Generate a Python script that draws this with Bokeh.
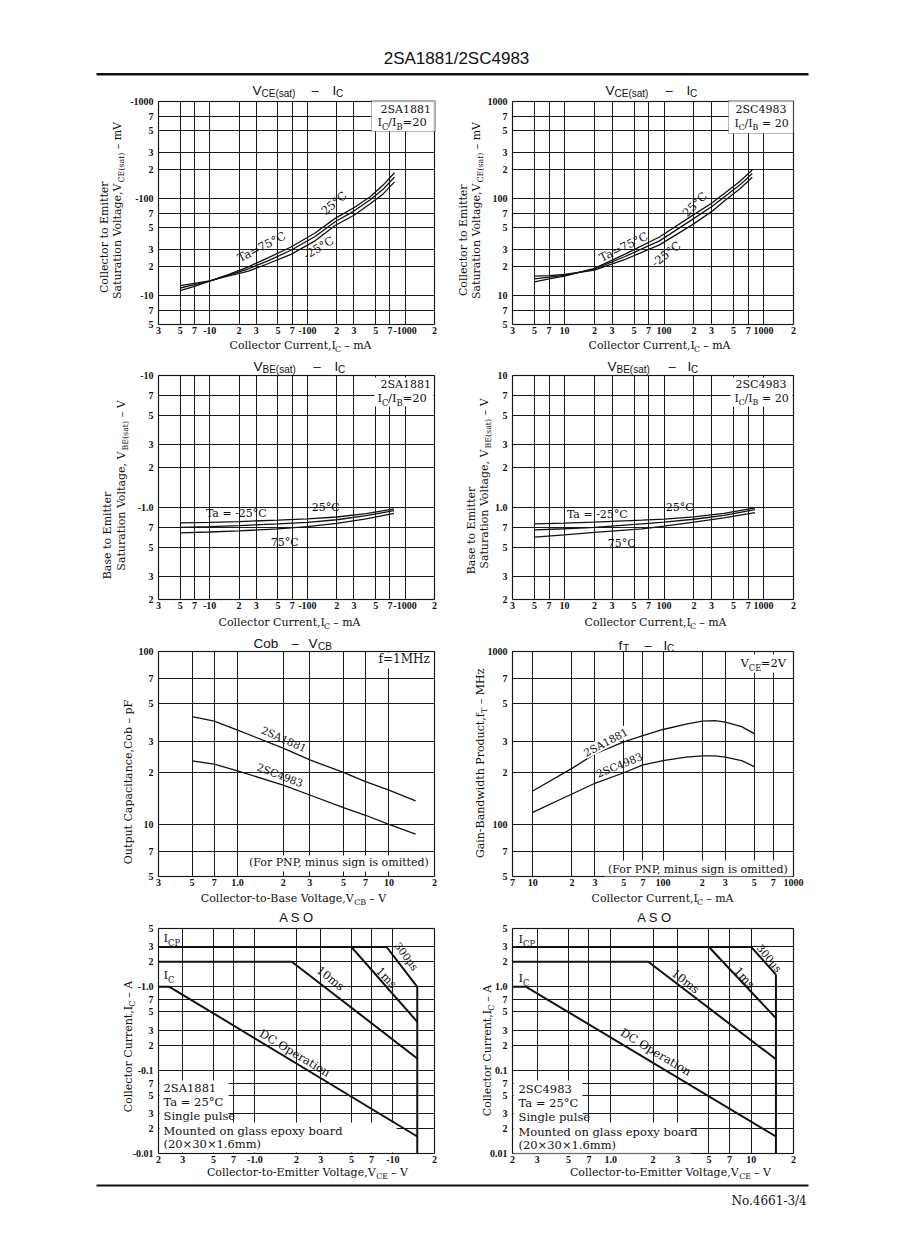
import math
from bokeh.plotting import figure
from bokeh.models import Label, BoxAnnotation, FixedTicker, Range1d, Grid
from bokeh.layouts import column, row
from bokeh.embed import file_html
from bokeh.resources import INLINE

# ---------------- data (magnitudes; PNP signs appear on the tick labels) ----------------
# VCE(sat) - IC, 2SA1881  (IC in mA, VCE(sat) in mV)
vcea_ic = [5, 7, 10, 15, 25, 40, 68, 120, 194, 300, 440, 600, 780]
vcea_75 = [11.2, 12.4, 14.0, 16.2, 19.7, 24.5, 31.5, 44.0, 62.6, 80.0, 104.0, 138.0, 184.0]
vcea_25 = [11.9, 12.9, 14.0, 16.0, 18.8, 22.8, 29.2, 40.5, 57.8, 74.0, 97.0, 125.0, 166.0]
vcea_m25 = [12.6, 13.3, 14.1, 15.7, 17.8, 21.3, 26.5, 36.5, 52.8, 67.0, 88.0, 112.0, 148.0]
# VCE(sat) - IC, 2SC4983
vcec_ic = [5, 7, 10, 20, 40, 90, 190, 300, 415, 580, 770]
vcec_75 = [13.8, 14.8, 15.8, 19.0, 26.5, 40.0, 66.0, 89.0, 115.0, 150.0, 196.0]
vcec_25 = [14.8, 15.4, 16.1, 18.6, 25.0, 36.5, 60.0, 82.0, 106.0, 138.0, 181.0]
vcec_m25 = [15.8, 16.0, 16.4, 18.2, 23.3, 33.2, 53.0, 73.0, 96.5, 126.0, 165.0]
# VBE(sat) - IC, 2SA1881 (V)
vbea_ic = [5, 10, 20, 50, 100, 200, 400, 770]
vbea_m25 = [0.762, 0.770, 0.780, 0.800, 0.818, 0.845, 0.895, 0.973]
vbea_25 = [0.706, 0.715, 0.727, 0.750, 0.770, 0.805, 0.865, 0.944]
vbea_75 = [0.641, 0.650, 0.663, 0.687, 0.715, 0.755, 0.818, 0.900]
# VBE(sat) - IC, 2SC4983
vbec_ic = [5, 10, 20, 60, 100, 200, 400, 820]
vbec_m25 = [0.750, 0.760, 0.772, 0.800, 0.815, 0.848, 0.900, 0.990]
vbec_25 = [0.675, 0.688, 0.705, 0.750, 0.772, 0.812, 0.870, 0.960]
vbec_75 = [0.594, 0.619, 0.645, 0.687, 0.720, 0.773, 0.832, 0.912]
# Cob - VCB (V, pF)
cob_v = [0.5, 0.7, 1.0, 2, 3, 5, 7, 10, 15]
cob_a = [42.0, 39.6, 35.1, 27.6, 23.6, 20.0, 17.7, 15.8, 13.7]
cob_c = [23.3, 22.3, 20.4, 16.9, 14.8, 12.5, 11.3, 10.0, 8.8]
# fT - IC (mA, MHz)
ft_ic = [10, 20, 30, 50, 70, 100, 150, 200, 250, 300, 400, 500]
ft_a = [156, 211, 256, 300, 326, 354, 380, 396, 398, 390, 368, 335]
ft_c = [117.5, 150, 173, 199, 221, 234, 245, 249, 249, 245, 234, 216]
# ASO 2SA1881 (V, A)
asoa_dc_v, asoa_dc_i = [0.2, 0.24, 15], [1.0, 1.0, 0.016]
asoa_10ms_v, asoa_10ms_i = [0.2, 1.85, 15], [2.0, 2.0, 0.138]
asoa_1ms_v, asoa_1ms_i = [5, 15], [3.0, 0.38]
asoa_300_v, asoa_300_i = [0.2, 9, 15], [3.0, 3.0, 1.0]
asoa_vceo_v, asoa_vceo_i = [15, 15], [1.0, 0.01]
# ASO 2SC4983
asoc_dc_v, asoc_dc_i = [0.2, 0.25, 15], [1.0, 1.0, 0.016]
asoc_10ms_v, asoc_10ms_i = [0.2, 1.85, 15], [2.0, 2.0, 0.135]
asoc_1ms_v, asoc_1ms_i = [5, 15], [3.0, 0.42]
asoc_300_v, asoc_300_i = [0.2, 10, 15], [3.0, 3.0, 1.4]
asoc_vceo_v, asoc_vceo_i = [15, 15], [1.4, 0.01]

# ---------------- ticks ----------------
ic_ticks = [3, 5, 7, 10, 20, 30, 50, 70, 100, 200, 300, 500, 700, 1000, 2000]
ic_lab_p = ["3", "5", "7", "-10", "2", "3", "5", "7", "-100", "2", "3", "5", "7", "-1000", "2"]
ic_lab_n = ["3", "5", "7", "10", "2", "3", "5", "7", "100", "2", "3", "5", "7", "1000", "2"]
vce_ticks = [5, 7, 10, 20, 30, 50, 70, 100, 200, 300, 500, 700, 1000]
vce_lab_p = ["5", "7", "-10", "2", "3", "5", "7", "-100", "2", "3", "5", "7", "-1000"]
vce_lab_n = ["5", "7", "10", "2", "3", "5", "7", "100", "2", "3", "5", "7", "1000"]
vbe_ticks = [0.2, 0.3, 0.5, 0.7, 1.0, 2, 3, 5, 7, 10]
vbe_lab_p = ["2", "3", "5", "7", "-1.0", "2", "3", "5", "7", "-10"]
vbe_lab_n = ["2", "3", "5", "7", "1.0", "2", "3", "5", "7", "10"]
cob_xticks = [0.3, 0.5, 0.7, 1.0, 2, 3, 5, 7, 10, 20]
cob_xlab = ["3", "5", "7", "1.0", "2", "3", "5", "7", "10", "2"]
cob_yticks = [5, 7, 10, 20, 30, 50, 70, 100]
cob_ylab = ["5", "7", "10", "2", "3", "5", "7", "100"]
ft_xticks = [7, 10, 20, 30, 50, 70, 100, 200, 300, 500, 700, 1000]
ft_xlab = ["7", "10", "2", "3", "5", "7", "100", "2", "3", "5", "7", "1000"]
ft_yticks = [50, 70, 100, 200, 300, 500, 700, 1000]
ft_ylab = ["5", "7", "100", "2", "3", "5", "7", "1000"]
aso_xticks = [0.2, 0.3, 0.5, 0.7, 1.0, 2, 3, 5, 7, 10, 20]
aso_xlab_p = ["2", "3", "5", "7", "-1.0", "2", "3", "5", "7", "-10", "2"]
aso_xlab_n = ["2", "3", "5", "7", "1.0", "2", "3", "5", "7", "10", "2"]
aso_yticks = [0.01, 0.02, 0.03, 0.05, 0.07, 0.1, 0.2, 0.3, 0.5, 0.7, 1.0, 2, 3, 5]
aso_ylab_p = ["-0.01", "2", "3", "5", "7", "-0.1", "2", "3", "5", "7", "-1.0", "2", "3", "5"]
aso_ylab_n = ["0.01", "2", "3", "5", "7", "0.1", "2", "3", "5", "7", "1.0", "2", "3", "5"]

# ---------------- text helpers ----------------
SERIF = "DejaVu Serif"
SANS = "Liberation Sans"
TICKF = "Liberation Serif"
_sw = {' ': .318, '(': .39, ')': .39, ',': .318, '-': .338, '.': .318, '/': .337, ':': .337,
       '=': .838, '°': .5, '×': .838, '–': .5, '−': .838, 'µ': .644,
       'A': .722, 'B': .735, 'C': .72, 'D': .802, 'E': .729, 'F': .693, 'G': .799, 'H': .872,
       'I': .395, 'M': .995, 'N': .837, 'O': .82, 'P': .685, 'S': .685, 'T': .668, 'V': .722,
       'W': 1.028, 'a': .596, 'b': .64, 'c': .56, 'd': .64, 'e': .592, 'f': .37, 'g': .64,
       'h': .644, 'i': .32, 'k': .606, 'l': .32, 'm': .948, 'n': .644, 'o': .602, 'p': .64,
       'r': .478, 's': .513, 't': .402, 'u': .644, 'v': .565, 'w': .856, 'x': .564,
       'y': .565, 'z': .527}
for d in "0123456789":
    _sw[d] = .636
_hw = {' ': .278, '(': .333, ')': .333, '-': .333, '–': .556, '/': .278, 'A': .667, 'B': .667,
       'C': .722, 'E': .667, 'I': .278, 'O': .778, 'S': .667, 'T': .611, 'V': .667,
       'a': .556, 'b': .556, 'f': .278, 'o': .556, 's': .5, 't': .278}
for d in "0123456789":
    _hw[d] = .556

GEOM = {}


def to_data(p, px, py):
    fl, fb, fw, fh, xr, yr, xlog, ylog = GEOM[id(p)]
    fx = (px - fl) / fw
    fy = (fb - py) / fh
    x = xr[0] * (xr[1] / xr[0]) ** fx if xlog else xr[0] + (xr[1] - xr[0]) * fx
    y = yr[0] * (yr[1] / yr[0]) ** fy if ylog else yr[0] + (yr[1] - yr[0]) * fy
    return x, y


def put(p, px, py, parts, size=11.0, font=SERIF, align="left", angle=0.0,
        style="normal", bg=None, color="#111111"):
    if isinstance(parts, str):
        parts = [(parts, "n")]
    tab = _sw if font == SERIF else _hw
    sizes = [size * 0.72 if k == "s" else size for _, k in parts]
    widths = [sum(tab.get(c, 0.6) for c in t) * s for (t, _), s in zip(parts, sizes)]
    total = sum(widths)
    a = math.radians(angle)
    dx, dy = math.cos(a), -math.sin(a)
    ox, oy = math.sin(a), math.cos(a)
    pos = {"left": 0.0, "center": -total / 2, "right": -total}[align]
    for (t, k), s, w in zip(parts, sizes, widths):
        lead = len(t) - len(t.lstrip(" "))
        off = pos + lead * tab[' '] * s
        drop = size * 0.28 if k == "s" else 0.0
        drop -= 0.36 * s  # renderer places the anchor slightly below the glyph baseline
        x = px + dx * off + ox * drop
        y = py + dy * off + oy * drop
        xd, yd = to_data(p, x, y)
        kw = dict(x=xd, y=yd, text=t.strip(" "), text_font=font, text_font_size=f"{s:.1f}px",
                  text_font_style=style, text_color=color, text_align="left",
                  text_baseline="alphabetic", angle=a)
        if bg is not None:
            kw["background_fill_color"] = bg
        p.add_layout(Label(**kw))
        pos += w


def box(p, x0, y0, x1, y1, fill="white", line=None, lw=1.0, level="underlay"):
    l, t = to_data(p, x0, y0)
    r, b = to_data(p, x1, y1)
    p.add_layout(BoxAnnotation(left=l, right=r, top=t, bottom=b, fill_color=fill,
                               fill_alpha=1.0 if fill else 0.0, line_color=line,
                               line_width=lw, level=level))


# ---------------- layout geometry (screen pixels, origin at top-left of the layout) ----------------
# row: (fig top, plot top, plot height, fig height)
ROWS = {1: (77, 101, 223, 278), 2: (355, 375, 224, 278), 3: (633, 651, 225, 273), 4: (906, 928, 225, 276)}
# col: (fig left, plot left, plot width, fig width)
COLS = {0: (0, 158, 276, 450), 1: (450, 512, 281, 440)}
HAS_CROSS = "cross_bounds" in Grid.properties()


def chart(c, r, xr, yr, xt, xl, yt, yl):
    top, ftop, fh, figh = ROWS[r]
    px0, fl, fw, figw = COLS[c]
    fb = ftop + fh
    kx = math.log10(xr[1] / xr[0]) / fw
    ky = math.log10(yr[1] / yr[0]) / fh
    X0 = xr[0] * 10 ** (-(fl - px0) * kx)
    X1 = xr[0] * 10 ** ((px0 + figw - fl) * kx)
    Y0 = yr[0] * 10 ** (-(top + figh - fb) * ky)
    Y1 = yr[0] * 10 ** ((fb - top) * ky)
    p = figure(x_axis_type="log", y_axis_type="log", x_range=Range1d(X0, X1), y_range=Range1d(Y0, Y1),
               frame_width=figw, frame_height=figh, min_border=0, toolbar_location=None,
               output_backend="svg", background_fill_color="white", border_fill_color="white",
               outline_line_color=None)
    GEOM[id(p)] = (fl, fb, fw, fh, xr, yr, True, True)
    p.xaxis.ticker = FixedTicker(ticks=xt)
    p.yaxis.ticker = FixedTicker(ticks=yt)
    p.xaxis.major_label_overrides = {t: s for t, s in zip(xt, xl)}
    p.yaxis.major_label_overrides = {t: s for t, s in zip(yt, yl)}
    p.xaxis.fixed_location = yr[0]
    p.yaxis.fixed_location = xr[0]
    p.xaxis.bounds = xr
    p.yaxis.bounds = yr
    p.axis.axis_line_color = None
    p.axis.major_tick_line_color = None
    p.axis.minor_tick_line_color = None
    p.axis.major_tick_out = 0
    p.axis.major_tick_in = 0
    p.axis.major_label_text_font = TICKF
    p.axis.major_label_text_font_size = "10px"
    p.axis.major_label_text_font_style = "bold"
    p.axis.major_label_text_color = "#111111"
    p.xaxis.major_label_standoff = 2
    p.yaxis.major_label_standoff = 5
    if HAS_CROSS:
        p.xgrid.cross_bounds = yr
        p.ygrid.cross_bounds = xr
        p.grid.grid_line_color = "#1a1a1a"
        p.grid.grid_line_width = 1.0
    else:
        p.grid.visible = False
        p.segment(x0=xt, x1=xt, y0=[yr[0]] * len(xt), y1=[yr[1]] * len(xt),
                  line_color="#1a1a1a", line_width=1.0)
        p.segment(x0=[xr[0]] * len(yt), x1=[xr[1]] * len(yt), y0=yt, y1=yt,
                  line_color="#1a1a1a", line_width=1.0)
    p.add_layout(BoxAnnotation(left=xr[0], right=xr[1], bottom=yr[0], top=yr[1], fill_alpha=0.0,
                               line_color="#111111", line_width=1.6, level="annotation"))
    return p


def curve(p, x, y, w=1.3):
    p.line(x, y, line_color="#111111", line_width=w)


# ---------------- header / footer ----------------
head = figure(frame_width=890, frame_height=77, x_range=Range1d(0, 890), y_range=Range1d(0, 77),
              x_axis_location=None, y_axis_location=None, toolbar_location=None,
              output_backend="svg", min_border=0, outline_line_color=None)
head.grid.visible = False
GEOM[id(head)] = (0, 77, 890, 77, (0, 890), (0, 77), False, False)
put(head, 456, 64, "2SA1881/2SC4983", size=17, font=SANS, align="center")
box(head, 96, 72.5, 808, 75, fill="#111111")

foot = figure(frame_width=890, frame_height=70, x_range=Range1d(0, 890), y_range=Range1d(0, 70),
              x_axis_location=None, y_axis_location=None, toolbar_location=None,
              output_backend="svg", min_border=0, outline_line_color=None)
foot.grid.visible = False
GEOM[id(foot)] = (0, 1252, 890, 70, (0, 890), (0, 70), False, False)
box(foot, 96, 1184, 808, 1186, fill="#111111")
put(foot, 806, 1205, "No.4661-3/4", size=12, align="right")


def title_v(p, x_v, x_sub, sub, x_dash, x_i, x_c, base):
    put(p, x_v, base, "V", size=13.5, font=SANS)
    put(p, x_sub, base + 1.5, sub, size=10, font=SANS)
    put(p, x_dash, base - 0.5, "–", size=13, font=SANS)
    put(p, x_i, base, "I", size=13.5, font=SANS)
    put(p, x_c, base + 2, "C", size=10, font=SANS)


ICMA = [("Collector Current,I", "n"), ("C", "s"), (" – mA", "n")]

# ---------------- chart 1: VCE(sat)-IC 2SA1881 ----------------
c1 = chart(0, 1, (3, 2000), (5, 1000), ic_ticks, ic_lab_p, vce_ticks, vce_lab_p)
curve(c1, vcea_ic, vcea_75)
curve(c1, vcea_ic, vcea_25)
curve(c1, vcea_ic, vcea_m25)
box(c1, 371, 100, 435, 131, line="#111111")
put(c1, 380, 113, "2SA1881", size=11)
put(c1, 377, 126, [("I", "n"), ("C", "s"), ("/I", "n"), ("B", "s"), ("=20", "n")], size=11.5)
put(c1, 263, 250, "Ta=75°C", size=11.5, align="center", angle=27)
put(c1, 336, 206, "25°C", size=11.5, align="center", angle=40)
put(c1, 320, 251, "-25°C", size=11.5, align="center", angle=31)
title_v(c1, 252, 261, "CE(sat)", 311, 332, 335.5, 95)
put(c1, 108, 237, "Collector to Emitter", size=11, align="center", angle=90)
put(c1, 121, 210, [("Saturation Voltage,V", "n"), ("CE(sat)", "s"), (" – mV", "n")], size=11, align="center", angle=90)
put(c1, 300, 349, ICMA, size=11, align="center")

# ---------------- chart 2: VCE(sat)-IC 2SC4983 ----------------
c2 = chart(1, 1, (3, 2000), (5, 1000), ic_ticks, ic_lab_n, vce_ticks, vce_lab_n)
curve(c2, vcec_ic, vcec_75)
curve(c2, vcec_ic, vcec_25)
curve(c2, vcec_ic, vcec_m25)
box(c2, 728, 100, 793, 133, line="#111111")
put(c2, 735, 113, "2SC4983", size=11)
put(c2, 734, 127, [("I", "n"), ("C", "s"), ("/I", "n"), ("B", "s"), (" = 20", "n")], size=11)
put(c2, 625, 250, "Ta=75°C", size=11.5, align="center", angle=26)
put(c2, 697, 207, "25°C", size=11.5, align="center", angle=45)
put(c2, 668, 257, "-25°C", size=11.5, align="center", angle=38)
title_v(c2, 605, 614, "CE(sat)", 665, 686, 689.5, 95)
put(c2, 467, 240, "Collector to Emitter", size=11, align="center", angle=90)
put(c2, 480, 210, [("Saturation Voltage,V", "n"), ("CE(sat)", "s"), (" – mV", "n")], size=11, align="center", angle=90)
put(c2, 659, 349, ICMA, size=11, align="center")

# ---------------- chart 3: VBE(sat)-IC 2SA1881 ----------------
c3 = chart(0, 2, (3, 2000), (0.2, 10), ic_ticks, ic_lab_p, vbe_ticks, vbe_lab_p)
curve(c3, vbea_ic, vbea_m25)
curve(c3, vbea_ic, vbea_25)
curve(c3, vbea_ic, vbea_75)
box(c3, 374, 377, 433, 406)
put(c3, 380, 388, "2SA1881", size=11)
put(c3, 377, 402, [("I", "n"), ("C", "s"), ("/I", "n"), ("B", "s"), ("=20", "n")], size=11.5)
put(c3, 236, 516.5, "Ta = -25°C", size=11, align="center")
put(c3, 325, 511, "25°C", size=11, align="center")
put(c3, 284, 546, "75°C", size=11, align="center")
title_v(c3, 253, 262, "BE(sat)", 313, 334, 337.5, 371)
put(c3, 111, 535, "Base to Emitter", size=11, align="center", angle=90)
put(c3, 125, 485, [("Saturation Voltage, V", "n"), ("BE(sat)", "s"), (" – V", "n")], size=11, align="center", angle=90)
put(c3, 289, 626, ICMA, size=11, align="center")

# ---------------- chart 4: VBE(sat)-IC 2SC4983 ----------------
c4 = chart(1, 2, (3, 2000), (0.2, 10), ic_ticks, ic_lab_n, vbe_ticks, vbe_lab_n)
curve(c4, vbec_ic, vbec_m25)
curve(c4, vbec_ic, vbec_25)
curve(c4, vbec_ic, vbec_75)
box(c4, 730, 377, 792, 406)
put(c4, 735, 388, "2SC4983", size=11)
put(c4, 734, 402, [("I", "n"), ("C", "s"), ("/I", "n"), ("B", "s"), (" = 20", "n")], size=11)
put(c4, 597, 517.5, "Ta = -25°C", size=11, align="center")
put(c4, 679, 511, "25°C", size=11, align="center")
put(c4, 621, 547, "75°C", size=11, align="center")
title_v(c4, 607, 616, "BE(sat)", 668, 687, 690.5, 371)
put(c4, 475, 530, "Base to Emitter", size=11, align="center", angle=90)
put(c4, 488, 483, [("Saturation Voltage, V", "n"), ("BE(sat)", "s"), (" – V", "n")], size=11, align="center", angle=90)
put(c4, 655, 626, ICMA, size=11, align="center")

# ---------------- chart 5: Cob-VCB ----------------
c5 = chart(0, 3, (0.3, 20), (5, 100), cob_xticks, cob_xlab, cob_yticks, cob_ylab)
curve(c5, cob_v, cob_a)
curve(c5, cob_v, cob_c)
box(c5, 374, 652, 433, 668)
put(c5, 378, 663, "f=1MHz", size=12)
box(c5, 249, 855, 433, 871)
put(c5, 431, 866, "(For PNP, minus sign is omitted)", size=11, align="right")
put(c5, 282, 742, "2SA1881", size=10.5, align="center", angle=-24)
put(c5, 278, 778, "2SC4983", size=10.5, align="center", angle=-21)
put(c5, 253, 648, "Cob", size=13.5, font=SANS)
put(c5, 291, 647.5, "–", size=13, font=SANS)
put(c5, 308, 648, "V", size=13.5, font=SANS)
put(c5, 317.5, 650, "CB", size=10, font=SANS)
put(c5, 132, 782, "Output Capacitance,Cob – pF", size=11, align="center", angle=90)
put(c5, 293, 902, [("Collector-to-Base Voltage,V", "n"), ("CB", "s"), (" – V", "n")], size=11, align="center")

# ---------------- chart 6: fT-IC ----------------
c6 = chart(1, 3, (7, 1000), (50, 1000), ft_xticks, ft_xlab, ft_yticks, ft_ylab)
curve(c6, ft_ic, ft_a)
curve(c6, ft_ic, ft_c)
box(c6, 736, 654, 792, 672)
put(c6, 740, 667, [("V", "n"), ("CE", "s"), ("=2V", "n")], size=11.5)
box(c6, 604, 860, 792, 876)
put(c6, 790, 873, "(For PNP, minus sign is omitted)", size=11, align="right")
put(c6, 607, 745, "2SA1881", size=10.5, align="center", angle=28, bg="white")
put(c6, 620, 768, "2SC4983", size=10.5, align="center", angle=22)
put(c6, 618, 650, "f", size=13.5, font=SANS)
put(c6, 622.5, 652, "T", size=10, font=SANS)
put(c6, 644, 649.5, "–", size=13, font=SANS)
put(c6, 663, 650, "I", size=13.5, font=SANS)
put(c6, 666.5, 652, "C", size=10, font=SANS)
put(c6, 484, 763, [("Gain-Bandwidth Product,f", "n"), ("T", "s"), (" – MHz", "n")], size=11, align="center", angle=90)
put(c6, 662, 902, ICMA, size=11, align="center")

# ---------------- chart 7: ASO 2SA1881 ----------------
c7 = chart(0, 4, (0.2, 20), (0.01, 5), aso_xticks, aso_xlab_p, aso_yticks, aso_ylab_p)
for xv, yv in [(asoa_dc_v, asoa_dc_i), (asoa_10ms_v, asoa_10ms_i), (asoa_1ms_v, asoa_1ms_i),
               (asoa_300_v, asoa_300_i), (asoa_vceo_v, asoa_vceo_i)]:
    curve(c7, xv, yv, w=2.0)
box(c7, 159, 1080, 228, 1122)
box(c7, 159, 1122, 396, 1152)
for i, t in enumerate(["2SA1881", "Ta = 25°C", "Single pulse", "Mounted on glass epoxy board", "(20×30×1.6mm)"]):
    put(c7, 163, [1092, 1106, 1120, 1135, 1148][i], t, size=11.5)
put(c7, 163, 942, [("I", "n"), ("CP", "s")], size=11.5)
put(c7, 163, 979, [("I", "n"), ("C", "s")], size=11.5)
put(c7, 327.5, 981, "10ms", size=11.5, align="center", angle=-38)
put(c7, 383, 980, "1ms", size=11.5, align="center", angle=-46)
put(c7, 403, 958, "300µs", size=10.5, align="center", angle=-53)
put(c7, 292, 1056, "DC Operation", size=11.5, align="center", angle=-31)
put(c7, 296, 922, "A S O", size=13, font=SANS, align="center")
put(c7, 132, 1046, [("Collector Current,I", "n"), ("C", "s"), (" – A", "n")], size=11, align="center", angle=90)
put(c7, 307, 1176, [("Collector-to-Emitter Voltage,V", "n"), ("CE", "s"), (" – V", "n")], size=11, align="center")

# ---------------- chart 8: ASO 2SC4983 ----------------
c8 = chart(1, 4, (0.2, 20), (0.01, 5), aso_xticks, aso_xlab_n, aso_yticks, aso_ylab_n)
for xv, yv in [(asoc_dc_v, asoc_dc_i), (asoc_10ms_v, asoc_10ms_i), (asoc_1ms_v, asoc_1ms_i),
               (asoc_300_v, asoc_300_i), (asoc_vceo_v, asoc_vceo_i)]:
    curve(c8, xv, yv, w=2.0)
box(c8, 513, 1080, 582, 1122)
box(c8, 513, 1122, 690, 1153)
for i, t in enumerate(["2SC4983", "Ta = 25°C", "Single pulse", "Mounted on glass epoxy board", "(20×30×1.6mm)"]):
    put(c8, 518, [1093, 1107, 1121, 1136, 1149][i], t, size=11.5)
put(c8, 518, 943, [("I", "n"), ("CP", "s")], size=11.5)
put(c8, 518, 982, [("I", "n"), ("C", "s")], size=11.5)
put(c8, 682.5, 984, "10ms", size=11.5, align="center", angle=-38)
put(c8, 741, 980, "1ms", size=11.5, align="center", angle=-47)
put(c8, 766, 960, "300µs", size=10.5, align="center", angle=-50)
put(c8, 653, 1055, "DC Operation", size=11.5, align="center", angle=-31)
put(c8, 654, 922, "A S O", size=13, font=SANS, align="center")
put(c8, 491, 1050, [("Collector Current,I", "n"), ("C", "s"), (" – A", "n")], size=11, align="center", angle=90)
put(c8, 670, 1176, [("Collector-to-Emitter Voltage,V", "n"), ("CE", "s"), (" – V", "n")], size=11, align="center")

page = column(head, row(c1, c2), row(c3, c4), row(c5, c6), row(c7, c8), foot)
open("out.html", "w").write(file_html(page, INLINE))
